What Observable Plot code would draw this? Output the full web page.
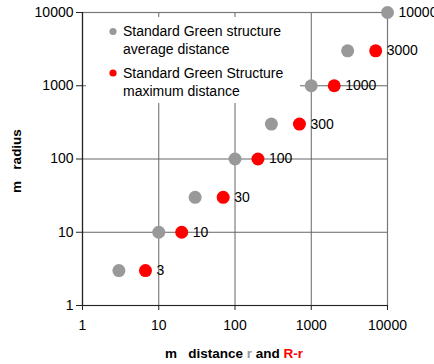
<!DOCTYPE html>
<html>
<head>
<meta charset="utf-8">
<script src="https://cdn.jsdelivr.net/npm/d3@7"></script>
<script src="https://cdn.jsdelivr.net/npm/@observablehq/plot@0.6"></script>
<style>
  html, body { margin: 0; padding: 0; background: #fff; }
  #chart { width: 434px; height: 364px; }
</style>
</head>
<body>
<div id="chart"></div>
<script>
// Data
const radius     = [3, 10, 30, 100, 300, 1000, 3000, 10000];
const avgDist    = [3, 10, 30, 100, 300, 1000, 3000, 10000];   // r (gray)
const maxDist    = [6.7, 20, 70, 200, 700, 2000, 7000, null];  // R-r (red)
const pointLabels = ["3", "10", "30", "100", "300", "1000", "3000", "10000"];
const axisTicks  = [1, 10, 100, 1000, 10000];
const gridTicks  = [10, 100, 1000];
const seriesNames = ["Standard Green structure\naverage distance", "Standard Green Structure\nmaximum distance"];

const gray = radius.map((r, i) => ({x: avgDist[i], y: r}));
const red = radius.map((r, i) => ({x: maxDist[i], y: r})).filter(d => d.x != null);
const labels = radius.map((r, i) => ({x: maxDist[i] != null ? maxDist[i] : avgDist[i], y: r, t: pointLabels[i]}));

const font = "Arial, 'Liberation Sans', sans-serif";

const plot = Plot.plot({
  width: 434,
  height: 364,
  marginLeft: 82,
  marginRight: 47,
  marginTop: 12,
  marginBottom: 59,
  style: {fontFamily: font, fontSize: "14px", color: "#000", background: "#fff"},
  x: {type: "log", domain: [1, 10000], ticks: axisTicks, tickFormat: d => String(d), label: null},
  y: {type: "log", domain: [1, 10000], ticks: axisTicks, tickFormat: d => String(d), label: null},
  marks: [
    Plot.gridX(gridTicks, {stroke: "#666", strokeOpacity: 1, strokeWidth: 1}),
    Plot.gridY(gridTicks, {stroke: "#666", strokeOpacity: 1, strokeWidth: 1}),
    Plot.frame({stroke: "#777", strokeWidth: 1.2}),
    Plot.axisX({ticks: axisTicks, tickFormat: d => String(d), tickSize: 5, tickPadding: 10, fontSize: 14, stroke: "#222", label: null}),
    Plot.axisY({ticks: axisTicks, tickFormat: d => String(d), tickSize: 6, tickPadding: 3, fontSize: 14, stroke: "#222", label: null}),
    Plot.ruleX([1], {stroke: "#222", strokeWidth: 1.2}),
    Plot.ruleY([1], {stroke: "#222", strokeWidth: 1.2}),
    Plot.dot(gray, {x: "x", y: "y", r: 6.5, fill: "#999999", stroke: "none"}),
    Plot.dot(red, {x: "x", y: "y", r: 6.5, fill: "#ff0000", stroke: "none"}),
    Plot.text(labels, {x: "x", y: "y", text: "t", dx: 11, textAnchor: "start", fontSize: 14, fill: "#000"})
  ]
});

document.getElementById("chart").appendChild(plot);

// Legend and axis titles added into the SVG
const svg = d3.select(plot);
const lg = svg.append("g").attr("text-anchor", "start");
lg.append("rect").attr("x", 86).attr("y", 17).attr("width", 214).attr("height", 86).attr("fill", "#fff");
const colors = ["#999999", "#ff0000"];
seriesNames.forEach((name, i) => {
  const cy = 31.5 + i * 41.5;
  lg.append("circle").attr("cx", 113).attr("cy", cy).attr("r", 3.6).attr("fill", colors[i]);
  const t = lg.append("text").attr("x", 123).attr("y", cy).attr("text-anchor", "start")
    .attr("font-family", font).attr("font-size", 14).attr("fill", "#000");
  name.split("\n").forEach((line, j) => {
    t.append("tspan").attr("x", 123).attr("dy", j === 0 ? "0.35em" : "18px").text(line);
  });
});

const xt = svg.append("text")
  .attr("x", 234).attr("y", 358)
  .attr("text-anchor", "middle")
  .attr("font-family", font).attr("font-size", 13.5).attr("font-weight", "bold")
  .style("white-space", "pre");
xt.append("tspan").attr("fill", "#000").text("m   distance ");
xt.append("tspan").attr("fill", "#999999").text("r");
xt.append("tspan").attr("fill", "#000").text(" and ");
xt.append("tspan").attr("fill", "#ff0000").text("R-r");

svg.append("text")
  .attr("transform", "translate(21,161) rotate(-90)")
  .attr("text-anchor", "middle")
  .attr("font-family", font).attr("font-size", 13.5).attr("font-weight", "bold")
  .style("white-space", "pre")
  .attr("fill", "#000")
  .text("m   radius");
</script>
</body>
</html>
